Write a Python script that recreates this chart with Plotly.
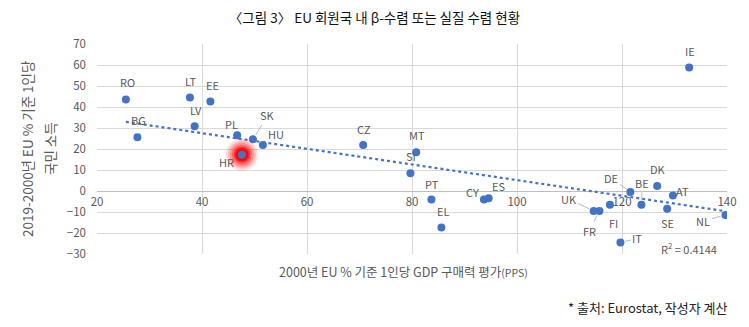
import numpy as np
import plotly.graph_objects as go

# Country codes, GDP per capita in PPS 2000 (EU = 100) and change in GNI per capita 2019-2000
countries = ["RO", "BG", "LT", "EE", "LV", "PL", "HR", "SK", "HU", "CZ", "MT", "SI", "PT", "EL",
             "CY", "ES", "IE", "DK", "DE", "BE", "AT", "SE", "NL", "IT", "FI", "UK", "FR"]
gdp_pps_2000 = [25.5, 27.7, 37.7, 41.6, 38.6, 46.7, 47.6, 49.7, 51.6, 70.7, 80.8, 79.7, 83.7, 85.6,
                93.7, 94.6, 132.8, 126.7, 121.6, 123.7, 129.7, 128.6, 139.7, 119.7, 117.7, 114.6, 115.7]
gni_change = [43.6, 25.6, 44.5, 42.6, 30.8, 26.5, 17.3, 24.6, 21.9, 21.9, 18.5, 8.5, -4.1, -17.4,
              -4.1, -3.5, 58.8, 2.4, -0.5, -6.5, -2.2, -8.5, -11.4, -24.5, -6.5, -9.5, -9.5]
highlight = "HR"

x_ticks = [20, 40, 60, 80, 100, 120, 140]
y_ticks = [-30, -20, -10, 0, 10, 20, 30, 40, 50, 60, 70]

# label offsets in pixels (dx right, dy down) and whether a leader line is drawn
label_offsets = {
    "RO": (2, -17, False), "BG": (1, -17, False), "LT": (1, -17, False), "EE": (2, -17, False),
    "LV": (1, -16, False), "PL": (-6, -11, False), "HR": (-15, 7, False), "SK": (15, -24, True),
    "HU": (13, -11, False), "CZ": (1, -16, False), "MT": (1, -17, False), "SI": (1, -17, False),
    "PT": (1, -16, False), "EL": (2, -17, False), "CY": (-11, -8, False), "ES": (10, -12, False),
    "IE": (1, -17, False), "DK": (1, -17, False), "DE": (-19, -14, True), "BE": (1, -22, True),
    "AT": (10, -5, False), "SE": (0, 14, False), "NL": (-22, 6, True), "IT": (17, -4, True),
    "FI": (4, 18, False), "UK": (-25, -12, True), "FR": (-10, 20, True),
}

BLUE = "#4472C4"
GRAY = "#595959"
GRID = "#D9D9D9"
FONT = "Noto Sans CJK KR, Noto Sans, sans-serif"

xs = np.array(gdp_pps_2000)
ys = np.array(gni_change)
slope, intercept = np.polyfit(xs, ys, 1)
trend_x = np.array([xs.min(), xs.max()])
trend_y = slope * trend_x + intercept

fig = go.Figure()

# soft red glow behind the highlighted country
hi = countries.index(highlight)
for size, alpha in [(32, 0.12), (28, 0.16), (24, 0.22), (20, 0.32), (16, 0.55), (13, 0.9)]:
    fig.add_trace(go.Scatter(
        x=[gdp_pps_2000[hi]], y=[gni_change[hi]], mode="markers",
        marker=dict(size=size, color=f"rgba(255,0,0,{alpha})", line=dict(width=0)),
        hoverinfo="skip", showlegend=False))

fig.add_trace(go.Scatter(
    x=trend_x, y=trend_y, mode="lines",
    line=dict(color=BLUE, width=2.2, dash="dot"),
    hoverinfo="skip", showlegend=False))

fig.add_trace(go.Scatter(
    x=gdp_pps_2000, y=gni_change, mode="markers", text=countries,
    marker=dict(size=8, color=BLUE, line=dict(width=0)),
    showlegend=False))

annotations = []
for c, x, y in zip(countries, gdp_pps_2000, gni_change):
    dx, dy, leader = label_offsets[c]
    if leader:
        annotations.append(dict(
            x=x, y=y, xref="x", yref="y", text=c, showarrow=True,
            ax=dx, ay=dy, arrowhead=0, arrowwidth=0.8, arrowcolor="#A6A6A6",
            standoff=5, font=dict(size=11, color=GRAY, family=FONT)))
    else:
        annotations.append(dict(
            x=x, y=y, xref="x", yref="y", text=c, showarrow=False,
            xshift=dx, yshift=-dy, font=dict(size=11, color=GRAY, family=FONT)))

annotations += [
    dict(text="R<sup>2</sup> = 0.4144", x=1, y=0, xref="paper", yref="paper",
         xanchor="right", yanchor="bottom", xshift=-8, yshift=-5, showarrow=False,
         font=dict(size=11, color=GRAY, family=FONT)),
    dict(text="2019-2000년 EU % 기준 1인당", x=0, y=0.5, xref="paper", yref="paper",
         xanchor="center", yanchor="middle", xshift=-70, showarrow=False, textangle=-90,
         font=dict(size=13.5, color=GRAY, family=FONT)),
    dict(text="국민 소득", x=0, y=0.5, xref="paper", yref="paper",
         xanchor="center", yanchor="middle", xshift=-47, showarrow=False, textangle=-90,
         font=dict(size=13.5, color=GRAY, family=FONT)),
    dict(text="2000년 EU % 기준 1인당 GDP 구매력 평가<span style='font-size:10.5px'>(PPS)</span>",
         x=0.5, y=0, xref="paper", yref="paper", xanchor="center", yanchor="middle",
         xshift=-9, yshift=-17, showarrow=False,
         font=dict(size=12.5, color=GRAY, family=FONT)),
    dict(text="* 출처: Eurostat, 작성자 계산", x=1, y=0, xref="paper", yref="paper",
         xanchor="right", yanchor="middle", xshift=3, yshift=-53, showarrow=False,
         font=dict(size=13, color="#222222", family=FONT)),
]

y_min, y_max = -30, 70
zero_pos = (0 - y_min) / (y_max - y_min)

fig.update_layout(
    width=749, height=327,
    margin=dict(l=97, r=16, t=44, b=73),
    paper_bgcolor="white", plot_bgcolor="white",
    font=dict(family=FONT, color=GRAY),
    title=dict(text="〈그림 3〉 EU 회원국 내 β-수렴 또는 실질 수렴 현황",
               x=0.5, xanchor="center", y=0.945, yanchor="middle",
               font=dict(size=13.5, color="#111111", family=FONT)),
    annotations=annotations,
    xaxis=dict(range=[20, 140], tickvals=x_ticks, showgrid=True, gridcolor=GRID, gridwidth=1,
               zeroline=False, showline=False, ticks="", anchor="free", position=zero_pos,
               tickfont=dict(size=11.5, color=GRAY, family=FONT), ticklabelstandoff=2),
    yaxis=dict(range=[y_min, y_max], tickvals=y_ticks, showgrid=True, gridcolor=GRID, gridwidth=1,
               zeroline=True, zerolinecolor="#BFBFBF", zerolinewidth=1.2, showline=False, ticks="",
               tickfont=dict(size=11.5, color=GRAY, family=FONT), ticklabelstandoff=10),
)

fig.write_html("out.html")
